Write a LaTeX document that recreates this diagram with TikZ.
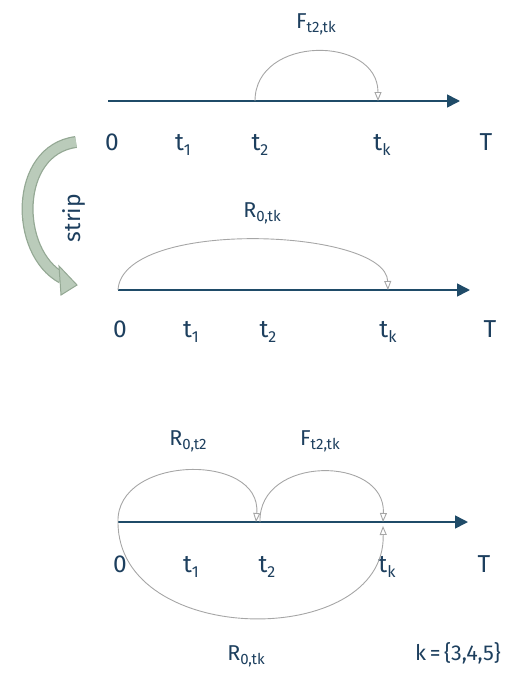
\documentclass[tikz,border=0pt]{standalone}
\usepackage{fontspec}
\setmainfont{Fira Sans}
\usetikzlibrary{arrows.meta, calc}
\definecolor{axisblue}{HTML}{1F4B68}
\definecolor{labelblue}{HTML}{1D3F5E}
\definecolor{arcgray}{HTML}{A6A6A6}
\definecolor{stripfill}{HTML}{BACBBA}
\definecolor{stripedge}{HTML}{94A894}
\newcommand{\tsub}[1]{\raisebox{-5pt}{\fontsize{16}{16}\selectfont #1}}
\newcommand{\fsub}[1]{\raisebox{-4pt}{\fontsize{15}{15}\selectfont #1}}

\begin{document}
\begin{tikzpicture}[x=1pt, y=-1pt,
    every node/.style={text=labelblue, inner sep=0pt},
    tick/.style={font=\fontsize{24.5}{26}\selectfont, anchor=base},
    flow/.style={font=\fontsize{21.5}{23}\selectfont, anchor=base},
    timeline/.style={draw=axisblue, line width=1.6pt, -{Triangle[length=13pt,width=13pt]}},
    jump/.style={draw=arcgray, line width=0.9pt, -{Triangle[open,length=9pt,width=7pt]}},
  ]
  \useasboundingbox (0,0) rectangle (506,675);

  % first timeline
  \coordinate (o1) at (108,101);
  \coordinate (e1) at (460,101);
  \coordinate (p2a) at (255,101);
  \coordinate (pka) at (378,101);
  \draw[timeline] (o1) -- (e1);
  \node[tick] (z1) at (112,150) {0};
  \node[tick] (ta1) at (183,150) {t\tsub{1}};
  \node[tick] (ta2) at (260,150) {t\tsub{2}};
  \node[tick] (tak) at (382,150) {t\tsub{k}};
  \node[tick] (bigT1) at (486,150) {T};
  \draw[jump] (p2a) .. controls (255,35) and (378,35) .. (pka);
  \node[flow] (fa) at (316,28) {F\fsub{t2,tk}};

  % second timeline
  \coordinate (o2) at (118,290);
  \coordinate (e2) at (470,290);
  \coordinate (pkb) at (388,290);
  \draw[timeline] (o2) -- (e2);
  \node[tick] (z2) at (120,337) {0};
  \node[tick] (tb1) at (191,337) {t\tsub{1}};
  \node[tick] (tb2) at (268,337) {t\tsub{2}};
  \node[tick] (tbk) at (388,337) {t\tsub{k}};
  \node[tick] (bigT2) at (490,337) {T};
  \draw[jump] (o2) .. controls (122,218) and (386,228) .. (pkb);
  \node[flow] (rb) at (262,217) {R\fsub{0,tk}};

  % third timeline
  \coordinate (o3) at (118,522);
  \coordinate (e3) at (468,522);
  \coordinate (p2c) at (256,522);
  \coordinate (q2c) at (260,522);
  \coordinate (pkc) at (383,522);
  \coordinate (ukc) at (383,526);
  \draw[timeline] (o3) -- (e3);
  \node[tick] (z3) at (120,572) {0};
  \node[tick] (tc1) at (191,572) {t\tsub{1}};
  \node[tick] (tc2) at (267,572) {t\tsub{2}};
  \node[tick] (tck) at (387,572) {t\tsub{k}};
  \node[tick] (bigT3) at (484,572) {T};
  \draw[jump] (o3) .. controls (116,455) and (262,452) .. (p2c);
  \draw[jump] (q2c) .. controls (258,455) and (386,455) .. (pkc);
  \draw[jump] (o3) .. controls (118,648) and (386,650) .. (ukc);
  \node[flow] (rc) at (188,445) {R\fsub{0,t2}};
  \node[flow] (fc) at (320,445) {F\fsub{t2,tk}};
  \node[flow] (rd) at (246,660) {R\fsub{0,tk}};
  \node[flow] (kset) at (458,660) {k\,=\,\{3,4,5\}};

  % strip arrow
  \coordinate (s0) at (76,142);
  \coordinate (s1) at (62,278);
  \draw[stripedge, line width=12pt] (s0) .. controls (14,150) and (14,252) .. (s1);
  \draw[stripfill, line width=9.5pt] (s0) .. controls (14,150) and (14,252) .. (s1);
  \fill[stripfill, draw=stripedge, line width=1pt] (59,266) -- (77,285) -- (61,295) -- cycle;
  \node[font=\fontsize{23}{25}\selectfont, rotate=90] (strip) at (74,218) {strip};
\end{tikzpicture}
\end{document}
